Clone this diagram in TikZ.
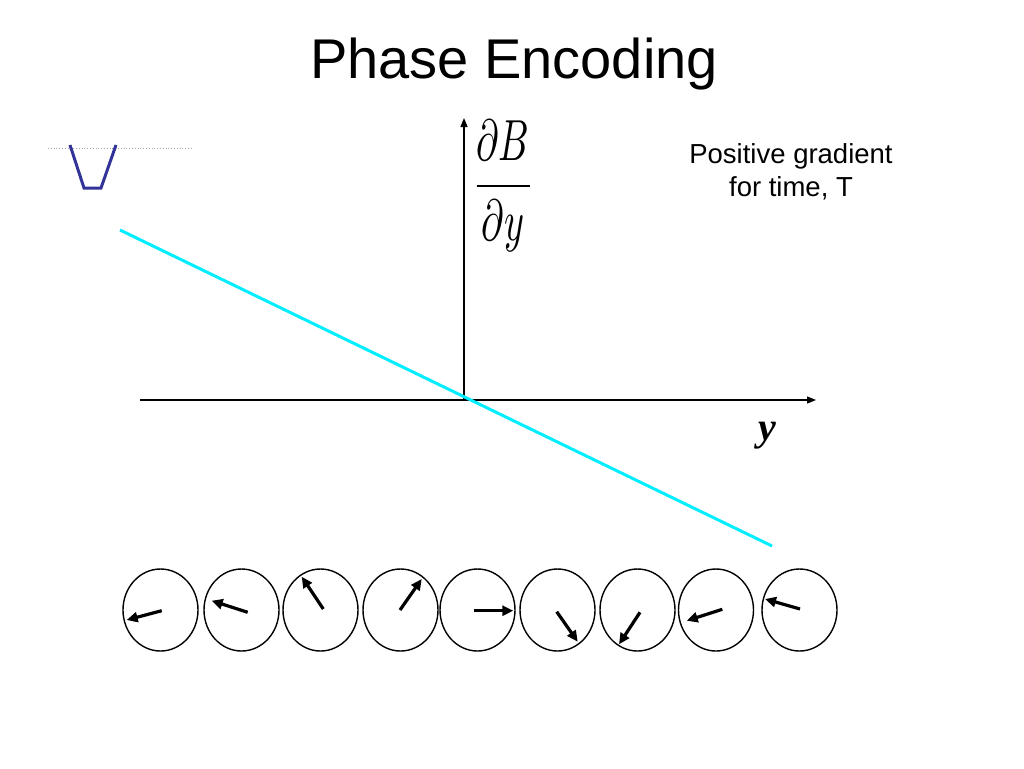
\documentclass[tikz,border=0pt]{standalone}
\usepackage{amsmath}
\usepackage{fontspec}
\setmainfont{Liberation Sans}
\newfontfamily\timesfont{Liberation Serif}
\usetikzlibrary{arrows.meta}
\definecolor{gradcyan}{RGB}{0,238,255}
\definecolor{pulseblue}{RGB}{51,51,153}
\tikzset{
  axis/.style={line width=1.3pt,-{Triangle[length=9pt,width=7pt]}},
  spin/.style={line width=1.4pt},
  spinarrow/.style={line width=3.2pt,-{Triangle[length=11pt,width=10pt]}}
}
\begin{document}
\begin{tikzpicture}[x=1pt,y=-1pt]
      \useasboundingbox (0,0) rectangle (1024,768);

      \def\cy{610}
      \def\rx{37.5}
      \def\ry{41}

      % title
      \path node (title) at (514,78) [anchor=base]
            {\fontsize{56}{60}\selectfont Phase Encoding};

      % small pulse sketch
      \draw[gray!70,dotted,line width=0.8pt] (48,148) -- (193,148);
      \draw[pulseblue,line width=3pt]
      (70,145) -- (84,188) -- (101,188) -- (116,145);

      % axes
      \coordinate (orig) at (464,400);
      \coordinate (ytop) at (464,118);
      \coordinate (xleft) at (140,400);
      \coordinate (xright) at (816,400);
      \draw[axis] (orig) -- (ytop);
      \draw[axis] (xleft) -- (xright);

      \path node (dBdy) at (503,186) [inner sep=0pt,xscale=3.8,yscale=5.8]
            {$\dfrac{\partial B}{\partial y}$};

      \path node (ylab) at (767,436) [inner sep=0pt]
            {\fontsize{40}{44}\selectfont\timesfont\bfseries\itshape y};

      \path node (note) at (791,172) [align=center,inner sep=0pt,
            font=\fontsize{27.5}{33}\selectfont]
            {Positive gradient\\for time, T};

      % gradient
      \coordinate (gstart) at (120,230);
      \coordinate (gend) at (772,546);
      \draw[gradcyan,line width=3pt] (gstart) -- (gend);

      % spins
      \foreach \i/\cx/\sx/\sy/\ex/\ey in {
        1/160.5/161.7/610.7/126.7/620,
        2/241.5/247.7/612.3/211.7/600.7,
        3/320.5/323.3/609/301.7/576.7,
        4/400.5/400/610/421.7/579,
        5/477.5/474.3/610.7/513.3/610.7,
        6/557.5/556.7/611.7/577.7/641.7,
        7/637.5/640/612.3/619/644.3,
        8/716/722.3/609.3/686.7/620.7,
        9/799.5/800/609/765/599}
      {
        \draw[spin] (\cx,\cy) ellipse [x radius=\rx,y radius=\ry];
        \coordinate (s\i) at (\sx,\sy);
        \coordinate (t\i) at (\ex,\ey);
        \draw[spinarrow] (s\i) -- (t\i);
      }
    \end{tikzpicture}
\end{document}
